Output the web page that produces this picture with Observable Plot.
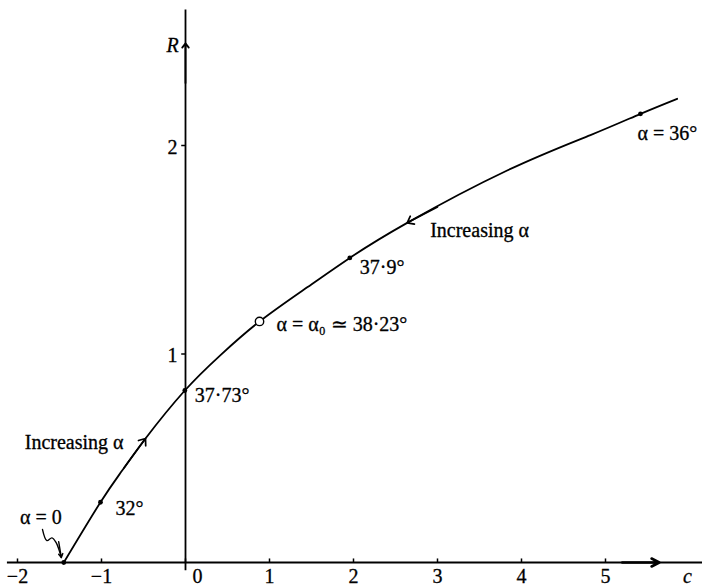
<!DOCTYPE html>
<html><head><meta charset="utf-8">
<script src="https://cdn.jsdelivr.net/npm/d3@7"></script>
<script src="https://cdn.jsdelivr.net/npm/@observablehq/plot@0.6"></script>
<style>body{margin:0;background:#fff}</style>
</head><body><div id="chart"></div>
<script>
// Curve R(c)
const curveC = [-1.449, -1.012, -0.754, -0.476, -0.008, 0.417, 0.881, 1.449, 1.956, 2.639, 3.829, 4.821, 5.417, 5.853];
const curveR = [0.0, 0.289, 0.441, 0.595, 0.825, 0.995, 1.156, 1.320, 1.461, 1.629, 1.880, 2.050, 2.152, 2.224];
// marked points (α values)
const markC = [-1.449, -1.012, -0.008, 1.956, 5.417];
const markR = [0.0, 0.289, 0.825, 1.461, 2.152];
const alpha0C = [0.881];
const alpha0R = [1.156];
// ticks
const xTicks = [-2, -1, 0, 1, 2, 3, 4, 5];
const xTickLabels = ["−2", "−1", "0", "1", "2", "3", "4", "5"];
const yTicks = [1, 2];
const yTickLabels = ["1", "2"];
// annotations attached to points
const labelText = ["32°", "37·73°", "α = α₀ ≃ 38·23°", "37·9°", "α = 36°", "Increasing α", "Increasing α", "α = 0"];
const labelC = [-1.012, -0.008, 0.881, 1.956, 5.417, -0.476, 2.639, -1.449];
const labelR = [0.289, 0.825, 1.156, 1.461, 2.152, 0.595, 1.629, 0.0];
// direction arrows on the curve
const dirFromC = [-0.731, 3.0];
const dirFromR = [0.454, 1.705];
const dirToC = [-0.476, 2.639];
const dirToR = [0.595, 1.629];
// squiggle pointing at α = 0
const squigC = [-1.702, -1.650, -1.590, -1.540, -1.505, -1.478];
const squigR = [0.158, 0.105, 0.118, 0.095, 0.060, 0.024];

const font = "Liberation Serif, Times New Roman, serif";
const fs = 20;
const idx = a => d3.range(a.length);
// layout offsets (pixels) for each annotation
const labelLayout = [
  {anchor: "start", dx: 15, dy: 6},
  {anchor: "start", dx: 10, dy: 5},
  {anchor: "start", dx: 17, dy: 3},
  {anchor: "start", dx: 10, dy: 10},
  {anchor: "start", dx: -3, dy: 20},
  {anchor: "end", dx: -22, dy: 4},
  {anchor: "start", dx: 23, dy: 8},
  {anchor: "middle", dx: -23, dy: -45}
];
const textStyle = {fontSize: fs, fill: "black", stroke: "black", strokeWidth: 0.3};

const chart = Plot.plot({
  width: 702,
  height: 588,
  margin: 0,
  x: {domain: [-185 / 84, 517 / 84]},
  y: {domain: [-26 / 208.5, 562 / 208.5]},
  axis: null,
  style: {fontFamily: font, background: "white"},
  marks: [
    // axes lines
    Plot.ruleY([0], {x1: -2.12, x2: 6.16, stroke: "black", strokeWidth: 1.8}),
    Plot.ruleX([0], {y1: -0.04, y2: 2.65, stroke: "black", strokeWidth: 1.8}),
    // axis arrows
    Plot.arrow([0], {x1: 5.2, y1: 0, x2: 5.64, y2: 0, stroke: "black", strokeWidth: 2.6, headLength: 5, headAngle: 55}),
    Plot.arrow([0], {x1: 0, y1: 2.30, x2: 0, y2: 2.49, stroke: "black", strokeWidth: 1.8, headLength: 4.5, headAngle: 75}),
    // ticks
    Plot.ruleX(xTicks, {x: d => d, y1: 0, y2: 0.017, stroke: "black", strokeWidth: 1.5}),
    Plot.ruleY(yTicks, {y: d => d, x1: -0.045, x2: 0, stroke: "black", strokeWidth: 1.5}),
    // tick labels
    Plot.text(idx(xTicks).filter(i => xTicks[i] !== 0), {x: i => xTicks[i], y: 0, text: i => xTickLabels[i], dy: 14, ...textStyle}),
    Plot.text(idx(xTicks).filter(i => xTicks[i] === 0), {x: i => xTicks[i], y: 0, text: i => xTickLabels[i], dy: 14, dx: 12, ...textStyle}),
    Plot.text(idx(yTicks), {x: 0, y: i => yTicks[i], text: i => yTickLabels[i], dx: -13, dy: 2, ...textStyle}),
    Plot.text(["R"], {x: 0, y: 2.49, text: d => d, dx: -13, dy: 2, fontStyle: "italic", ...textStyle}),
    Plot.text(["c"], {x: 5.976, y: 0, text: d => d, dy: 14, fontStyle: "italic", ...textStyle}),
    // curve
    Plot.line(idx(curveC), {x: i => curveC[i], y: i => curveR[i], curve: "natural", stroke: "black", strokeWidth: 1.8}),
    // direction arrows
    Plot.arrow(idx(dirToC), {x1: i => dirFromC[i], y1: i => dirFromR[i], x2: i => dirToC[i], y2: i => dirToR[i], stroke: "black", strokeWidth: 1.7, headLength: 6.5, headAngle: 75}),
    // marked points
    Plot.dot(idx(markC), {x: i => markC[i], y: i => markR[i], r: 2.4, fill: "black"}),
    Plot.dot(idx(alpha0C), {x: i => alpha0C[i], y: i => alpha0R[i], r: 4.2, fill: "white", stroke: "black", strokeWidth: 1.4}),
    // labels
    ...idx(labelText).map(i => Plot.text([i], {
      x: j => labelC[j], y: j => labelR[j], text: j => labelText[j],
      textAnchor: labelLayout[i].anchor, dx: labelLayout[i].dx, dy: labelLayout[i].dy,
      ...textStyle
    })),
    // squiggle
    Plot.line(idx(squigC), {x: i => squigC[i], y: i => squigR[i], curve: "catmull-rom", stroke: "black", strokeWidth: 1.4}),
    Plot.arrow([0], {x1: -1.51, y1: 0.10, x2: -1.478, y2: 0.024, stroke: "black", strokeWidth: 1.4, headLength: 4.5, headAngle: 60})
  ]
});
document.getElementById("chart").appendChild(chart);
</script>
</body></html>
